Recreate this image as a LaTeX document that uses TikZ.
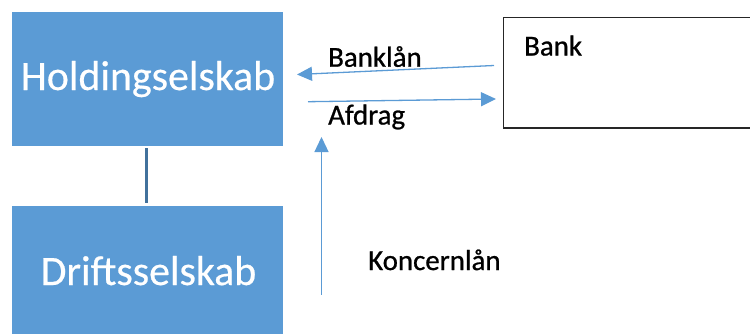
\documentclass[tikz,border=0pt]{standalone}
\usepackage{fontspec}
\setmainfont{Carlito}
\newfontfamily\heavyfont[FakeBold=0.8]{Carlito}
\newfontfamily\boxfont[FakeBold=0.5]{Carlito}
\usetikzlibrary{arrows.meta}
\definecolor{boxblue}{HTML}{5B9BD5}
\definecolor{linkblue}{HTML}{41719C}
\begin{document}
\begin{tikzpicture}[x=1bp,y=-1bp,
  bluebox/.style={draw=none,fill=boxblue,minimum width=271bp,minimum height=134bp,inner sep=0pt},
  boxtext/.style={text=white,font=\boxfont\fontsize{42}{42}\selectfont,inner sep=0pt,anchor=base},
  bankbox/.style={draw=black!85,line width=1.6bp,fill=white,minimum width=262bp,minimum height=110.4bp,inner sep=0pt},
  lbl/.style={text=black,font=\heavyfont\fontsize{29}{29}\selectfont,inner sep=0pt,anchor=base west},
  flow/.style={draw=boxblue,line width=1.3bp,-{Triangle[length=15bp,width=14bp]}},
  link/.style={draw=linkblue,line width=2.7bp}]
\clip (0,0) rectangle (750,333);
\fill[white] (0,0) rectangle (750,333);
% boxes
\node[bluebox] (hold) at (147.8,78.7) {};
\node[boxtext] (holdt) at (148,90) {Holdingselskab};
\node[bluebox] (drift) at (147.8,273) {};
\node[boxtext] (driftt) at (148.5,285) {Driftsselskab};
\node[bankbox] (bank) at (634.3,72.5) {};
\node[lbl] (bankt) at (524,55.5) {Bank};
% connector between companies
\coordinate (c1) at (146.7,148.3);
\coordinate (c2) at (146.7,202.7);
\draw[link] (c1) -- (c2);
% arrows
\coordinate (bl1) at (494,65.5);
\coordinate (bl2) at (297,74.5);
\draw[flow] (bl1) -- (bl2);
\coordinate (af1) at (308,101.7);
\coordinate (af2) at (496,99);
\draw[flow] (af1) -- (af2);
\coordinate (k1) at (321.5,294.5);
\coordinate (k2) at (321.5,137);
\draw[flow] (k1) -- (k2);
% labels
\node[lbl] (banklan) at (328,66.7) {Banklån};
\node[lbl] (afdrag) at (328,124.5) {Afdrag};
\node[lbl] (koncern) at (368,270) {Koncernlån};
\end{tikzpicture}
\end{document}
